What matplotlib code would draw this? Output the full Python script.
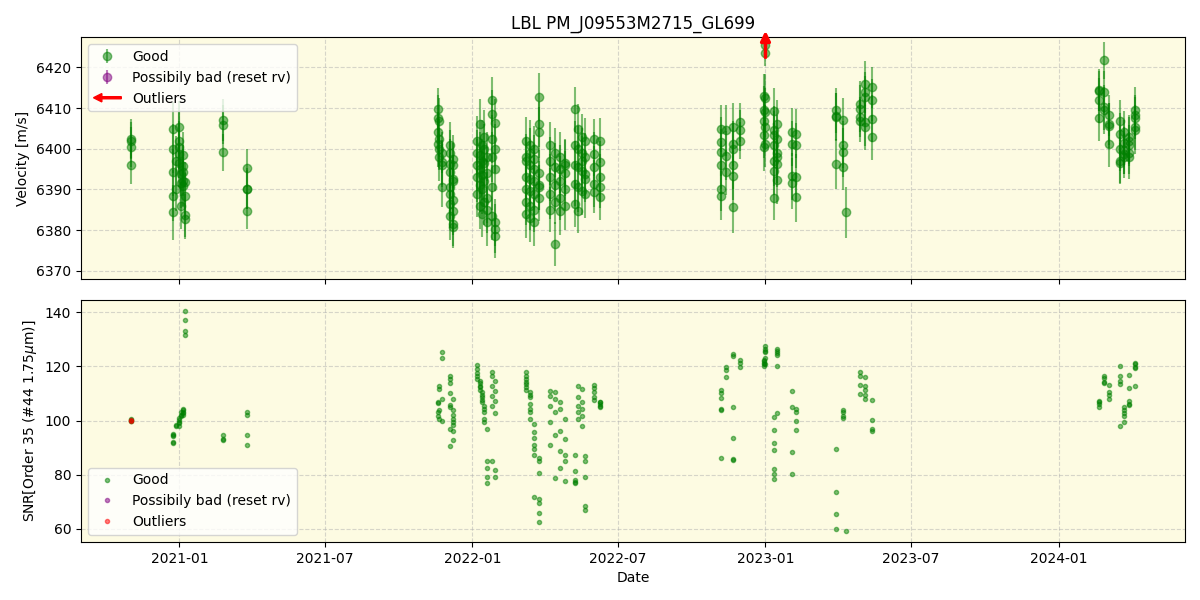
import matplotlib
matplotlib.use('Agg')
import matplotlib.pyplot as plt
import matplotlib.patches as mpatches
import matplotlib.dates as mdates
from matplotlib.legend_handler import HandlerPatch
import pandas as pd

dates = (['2020-11-02'] * 4
         + ['2020-12-24'] * 5 + ['2020-12-28'] * 2 + ['2020-12-31'] * 5
         + ['2021-01-03'] * 3 + ['2021-01-06'] * 5 + ['2021-01-08'] * 4
         + ['2021-02-24'] * 3 + ['2021-03-26'] * 4
         + ['2021-11-19'] * 4 + ['2021-11-21'] * 4 + ['2021-11-24'] * 4
         + ['2021-12-04'] * 8 + ['2021-12-08'] * 8
         + ['2022-01-07'] * 5 + ['2022-01-10'] * 5 + ['2022-01-13'] * 5
         + ['2022-01-16'] * 5 + ['2022-01-19'] * 5 + ['2022-01-25'] * 6 + ['2022-01-29'] * 6
         + ['2022-03-09'] * 7 + ['2022-03-14'] * 7 + ['2022-03-19'] * 7 + ['2022-03-25'] * 7
         + ['2022-04-08'] * 5 + ['2022-04-14'] * 5 + ['2022-04-20'] * 5 + ['2022-04-26'] * 5
         + ['2022-05-09'] * 5 + ['2022-05-13'] * 5 + ['2022-05-17'] * 5 + ['2022-05-21'] * 5
         + ['2022-06-02'] * 5 + ['2022-06-09'] * 5
         + ['2022-11-06'] * 6 + ['2022-11-13'] * 3 + ['2022-11-21'] * 6 + ['2022-11-30'] * 3
         + ['2022-12-30'] * 5 + ['2023-01-01'] * 6 + ['2023-01-12'] * 7 + ['2023-01-15'] * 6
         + ['2023-02-03'] * 4 + ['2023-02-08'] * 4
         + ['2023-03-30'] * 4 + ['2023-04-07'] * 4 + ['2023-04-11'] * 1
         + ['2023-04-29'] * 4 + ['2023-05-05'] * 5 + ['2023-05-14'] * 4
         + ['2024-02-21'] * 4 + ['2024-02-27'] * 4 + ['2024-03-04'] * 4
         + ['2024-03-17'] * 5 + ['2024-03-23'] * 5 + ['2024-03-29'] * 5 + ['2024-04-05'] * 5)

rv = [6402.5, 6402.0, 6400.4, 6396.0,
      6404.9, 6400.0, 6394.2, 6388.5, 6384.4, 6397.1, 6390.1, 6405.3, 6402.0, 6400.5, 6398.7, 6396.5,
      6393.8, 6391.5, 6386.0, 6398.5, 6395.8, 6394.2, 6392.0, 6390.9, 6391.8, 6388.5, 6383.6, 6382.7,
      6407.1, 6405.9, 6399.1, 6395.3, 6390.2, 6390.0, 6384.8,
      6409.7, 6407.6, 6404.1, 6401.2, 6406.9, 6402.4, 6400.0, 6397.9, 6399.0, 6396.7, 6395.9, 6390.7,
      6401.0, 6396.3, 6394.2, 6390.5, 6388.9, 6386.4, 6383.5, 6399.0,
      6395.9, 6392.6, 6384.8, 6381.6, 6380.7, 6397.5, 6392.0, 6387.5,
      6402, 6399, 6396, 6393, 6389, 6406, 6398.5, 6395, 6391, 6386, 6401, 6397, 6393.5, 6390, 6384,
      6403, 6400, 6396.5, 6392, 6387, 6398, 6394, 6388, 6385, 6382,
      6412.0, 6408.6, 6402.4, 6398.0, 6390.5, 6383.5, 6406.3, 6400.0, 6395.0, 6381.9, 6380.3, 6378.6,
      6402, 6397, 6393, 6390, 6387, 6384, 6398, 6401, 6396, 6392.5, 6389.5, 6386, 6383, 6399,
      6400, 6395, 6392, 6389, 6385, 6382, 6397.5, 6412.7, 6406, 6404, 6394, 6391, 6390.5, 6388,
      6401, 6397, 6393, 6389, 6385, 6399, 6395.5, 6391, 6387, 6376.6,
      6398, 6395, 6392, 6388, 6384.8, 6396.5, 6396, 6394, 6390, 6386,
      6409.7, 6401, 6396, 6391.4, 6386.5, 6404.9, 6400.0, 6395.4, 6390.5, 6384.8,
      6402.8, 6399, 6394.5, 6389.5, 6397.1, 6402.0, 6398, 6393.8, 6392.5, 6388.9,
      6402.4, 6398.7, 6395.4, 6391.4, 6389.3, 6402.0, 6396.7, 6393.0, 6390.5, 6388.1,
      6404.9, 6401.6, 6396.0, 6390.1, 6388.5, 6399.1, 6404.5, 6398.3, 6394.2,
      6405.3, 6401.2, 6400.0, 6395.9, 6393.4, 6385.8, 6406.5, 6404.5, 6402.0,
      6412.9, 6409.4, 6406.9, 6403.3, 6400.5, 6425.4, 6423.4, 6412.5, 6409.0, 6405.3, 6401.2,
      6409.2, 6403.3, 6400.8, 6397.1, 6394.5, 6404.5, 6388.0, 6406.1, 6402.4, 6399.0, 6397.9, 6396.3, 6392.3,
      6404.1, 6401.2, 6393.2, 6391.5, 6403.7, 6400.8, 6393.0, 6388.1,
      6409.4, 6408.0, 6407.8, 6396.3, 6407.0, 6401.0, 6399.1, 6395.4, 6384.4,
      6411.1, 6407.8, 6406.9, 6409.8, 6416.0, 6413.9, 6412.7, 6406.5, 6405.3, 6415.1, 6411.9, 6407.4, 6402.8,
      6414.5, 6411.9, 6407.6, 6414.2, 6421.7, 6413.9, 6410.2, 6409.4, 6408.2, 6406.1, 6405.7, 6401.2,
      6406.9, 6403.7, 6400.0, 6397.1, 6396.5, 6404.1, 6401.5, 6399.6, 6398.7, 6397.9,
      6402.8, 6402.0, 6400.8, 6399.0, 6398.0, 6409.4, 6408.2, 6407.6, 6405.3, 6404.5]

rv_err = [4.8, 4.6, 5.0, 4.7,
          6.5, 6.0, 5.8, 6.2, 6.8, 6.0, 5.5, 6.5, 7.0, 6.2, 5.8, 6.0,
          5.5, 6.0, 5.8, 5.5, 5.0, 5.8, 6.0, 5.2, 5.0, 5.5, 5.2, 4.8,
          5.2, 4.8, 4.5, 4.7, 5.0, 4.8, 4.5,
          5.2, 5.5, 5.0, 5.8, 5.5, 5.0, 5.2, 5.8, 5.0, 5.5, 5.2, 5.0,
          5.5, 6.0, 5.8, 5.5, 6.2, 5.8, 6.0, 5.5,
          5.5, 5.8, 6.0, 5.5, 5.2, 5.8, 6.0, 5.5,
          6.0, 5.5, 6.5, 6.0, 5.8, 6.2, 5.5, 6.0, 6.5, 5.8, 6.0, 5.5, 6.2, 6.0, 5.8,
          6.5, 6.0, 5.5, 6.2, 5.8, 6.0, 6.5, 6.2, 5.8, 6.0,
          5.5, 5.8, 6.0, 6.2, 5.5, 6.0, 5.8, 6.0, 5.5, 5.8, 6.0, 5.5,
          5.8, 6.0, 5.5, 6.2, 5.8, 6.0, 5.5, 6.0, 5.8, 6.2, 5.5, 6.0, 5.8, 6.2,
          5.5, 6.0, 5.8, 6.2, 5.5, 6.0, 5.8, 6.0, 5.5, 6.2, 5.8, 6.0, 5.5, 5.8,
          5.5, 6.0, 5.8, 6.2, 5.5, 6.0, 5.8, 6.2, 5.5, 5.5,
          6.0, 5.8, 6.2, 5.5, 6.0, 5.8, 6.2, 5.5, 5.0, 6.0,
          5.5, 5.8, 6.0, 5.5, 5.8, 6.0, 5.5, 5.8, 6.0, 5.5,
          5.8, 6.0, 5.5, 5.8, 6.0, 5.5, 5.8, 6.0, 5.5, 5.8,
          5.0, 5.5, 5.2, 5.8, 5.0, 5.5, 5.2, 5.8, 5.0, 5.5,
          5.8, 6.2, 6.0, 5.5, 6.0, 5.8, 6.2, 6.0, 5.5,
          6.0, 5.5, 6.2, 5.8, 6.0, 6.5, 4.8, 5.0, 4.5,
          5.5, 6.0, 5.8, 5.5, 6.0, 3.0, 3.0, 5.8, 6.0, 5.5, 5.8,
          5.8, 6.0, 5.5, 6.2, 5.8, 6.0, 5.5, 5.8, 6.0, 5.5, 6.2, 5.8, 6.0,
          6.0, 5.5, 5.8, 6.2, 6.0, 5.5, 5.8, 6.2,
          5.5, 5.8, 6.0, 6.2, 5.5, 5.8, 6.0, 5.5, 6.3,
          5.5, 5.0, 5.2, 5.8, 5.5, 5.0, 5.2, 5.8, 5.5, 5.0, 5.2, 5.8, 5.5,
          5.2, 5.5, 5.8, 5.0, 4.5, 5.2, 5.5, 5.8, 5.0, 5.2, 5.5, 5.8,
          5.0, 5.2, 5.5, 5.8, 5.0, 5.2, 5.5, 5.8, 5.0, 5.2,
          5.5, 5.8, 5.0, 5.2, 5.5, 5.8, 5.0, 5.2, 5.5, 5.8]

snr = [100.5, 100.2, 99.8, 100.0,
       94.8, 94.2, 92.0, 91.6, 95.0, 98.5, 97.8, 99.3, 99.0, 98.0, 101.0, 100.2,
       102.0, 101.5, 103.0, 104.4, 103.8, 103.2, 102.6, 102.2, 140.4, 137.0, 133.1, 131.4,
       94.5, 93.3, 92.9, 103.0, 102.2, 94.5, 90.8,
       107.0, 106.5, 103.0, 101.8, 111.6, 112.6, 104.0, 100.4, 125.3, 123.0, 108.0, 100.0,
       116.5, 115.3, 113.8, 110.2, 105.8, 104.9, 97.0, 90.5,
       108.0, 103.7, 102.1, 100.4, 99.6, 98.2, 96.0, 92.9,
       120.4, 119.0, 117.7, 116.5, 115.3, 114.7, 113.8, 112.8, 112.2, 111.4, 110.4, 109.4, 108.6, 107.7, 106.7,
       105.5, 104.3, 103.0, 100.4, 99.4, 97.0, 85.0, 82.3, 79.2, 76.8,
       117.9, 116.5, 112.8, 109.1, 105.5, 85.0, 114.7, 110.9, 107.2, 102.8, 81.6, 79.2,
       117.9, 116.5, 115.3, 114.3, 113.5, 112.2, 111.4, 110.4, 109.4, 108.6, 106.2, 104.3, 103.0, 100.6,
       98.8, 95.7, 93.5, 91.1, 89.4, 87.4, 71.9, 86.0, 85.0, 80.8, 71.0, 69.4, 65.8, 62.5,
       110.9, 109.1, 105.5, 99.4, 91.1, 110.4, 107.9, 103.0, 94.5, 78.7,
       106.7, 104.3, 96.3, 88.6, 82.3, 100.6, 93.0, 87.2, 85.0, 77.7,
       87.4, 81.3, 78.0, 77.4, 76.8, 112.6, 108.6, 105.5, 103.0, 100.4,
       111.6, 107.0, 104.3, 101.6, 97.9, 86.9, 85.0, 79.2, 68.3, 67.1,
       113.1, 112.0, 110.4, 108.6, 107.4, 107.0, 106.7, 106.2, 105.5, 105.0,
       111.3, 110.2, 108.3, 104.3, 103.7, 86.3, 119.6, 118.7, 115.9,
       124.5, 123.9, 104.9, 93.5, 85.9, 85.6, 122.3, 121.4, 119.8,
       120.2, 120.8, 121.4, 122.0, 122.5, 127.5, 126.5, 125.7, 125.1, 123.2, 121.0,
       89.0, 82.0, 80.2, 78.3, 91.8, 96.6, 101.2, 126.5, 125.7, 124.8, 124.1, 120.2, 102.8,
       111.0, 105.1, 88.4, 80.2, 104.3, 103.3, 100.0, 96.6,
       89.6, 73.5, 65.4, 59.9, 103.7, 103.0, 101.8, 101.0, 59.3,
       118.0, 116.5, 113.1, 109.8, 115.9, 112.6, 111.4, 109.4, 108.0, 107.7, 100.3, 97.0, 96.3,
       106.7, 106.1, 104.9, 107.3, 116.5, 115.5, 114.3, 113.8, 113.1, 110.4, 109.4, 108.0,
       120.2, 116.3, 114.7, 113.5, 97.8, 104.9, 103.7, 101.6, 99.6, 102.8,
       107.3, 106.1, 105.8, 116.8, 112.0, 121.4, 120.8, 119.9, 119.2, 112.8]

# outliers: SNR points drawn in red, RV outlier is off the top of the window
outlier_dates = ['2020-11-02', '2020-11-02']
outlier_snr = [100.3, 99.8]
outlier_rv_dates = ['2023-01-01']

t = pd.to_datetime(dates)
t_out = pd.to_datetime(outlier_dates)
t_out_rv = pd.to_datetime(outlier_rv_dates)

BG = '#fdfbe2'


def legend_arrow(legend, orig_handle, xdescent, ydescent, width, height, fontsize):
    return mpatches.FancyArrow(width, 0.5 * height, -width, 0, width=1.5,
                               head_width=6, head_length=6,
                               length_includes_head=True, color='red')


fig, (ax1, ax2) = plt.subplots(2, 1, figsize=(12, 6), sharex=True)
fig.subplots_adjust(left=0.0675, right=0.9875, top=0.938, bottom=0.097, hspace=0.087)

# --- top panel: velocities ---
ax1.set_facecolor(BG)
ax1.errorbar(t, rv, yerr=rv_err, fmt='o', color='green', alpha=0.5,
             ms=6, elinewidth=1.5, label='Good', zorder=3)
ax1.errorbar([], [], yerr=[], fmt='o', color='purple', alpha=0.5, ms=6,
             label='Possibily bad (reset rv)')
for d in t_out_rv:
    x = mdates.date2num(d)
    ax1.annotate('', xy=(x, 1.038), xycoords=('data', 'axes fraction'),
                 xytext=(x, 0.905), textcoords=('data', 'axes fraction'),
                 arrowprops=dict(arrowstyle='-|>', color='red', lw=2.5, mutation_scale=14),
                 annotation_clip=False, zorder=5)
arrow_handle = mpatches.FancyArrow(0, 0, 1, 0, color='red')
h, l = ax1.get_legend_handles_labels()
ax1.legend(h + [arrow_handle], l + ['Outliers'], loc='upper left',
           handler_map={arrow_handle: HandlerPatch(patch_func=legend_arrow)})
ax1.set_ylim(6368, 6427.4)
ax1.set_ylabel('Velocity [m/s]')
ax1.set_title('LBL PM_J09553M2715_GL699')
ax1.grid(True, linestyle='--', alpha=0.5)

# --- bottom panel: SNR ---
ax2.set_facecolor(BG)
ax2.plot(t, snr, 'o', color='green', alpha=0.5, ms=3, label='Good')
ax2.plot([], [], 'o', color='purple', alpha=0.5, ms=3, label='Possibily bad (reset rv)')
ax2.plot(t_out, outlier_snr, 'o', color='red', alpha=0.5, ms=3, label='Outliers')
ax2.legend(loc='lower left')
ax2.set_ylabel('SNR[Order 35 (#44 1.75$\\mu$m)]')
ax2.set_xlabel('Date')
ax2.grid(True, linestyle='--', alpha=0.5)

plt.savefig('out.png', dpi=100)
